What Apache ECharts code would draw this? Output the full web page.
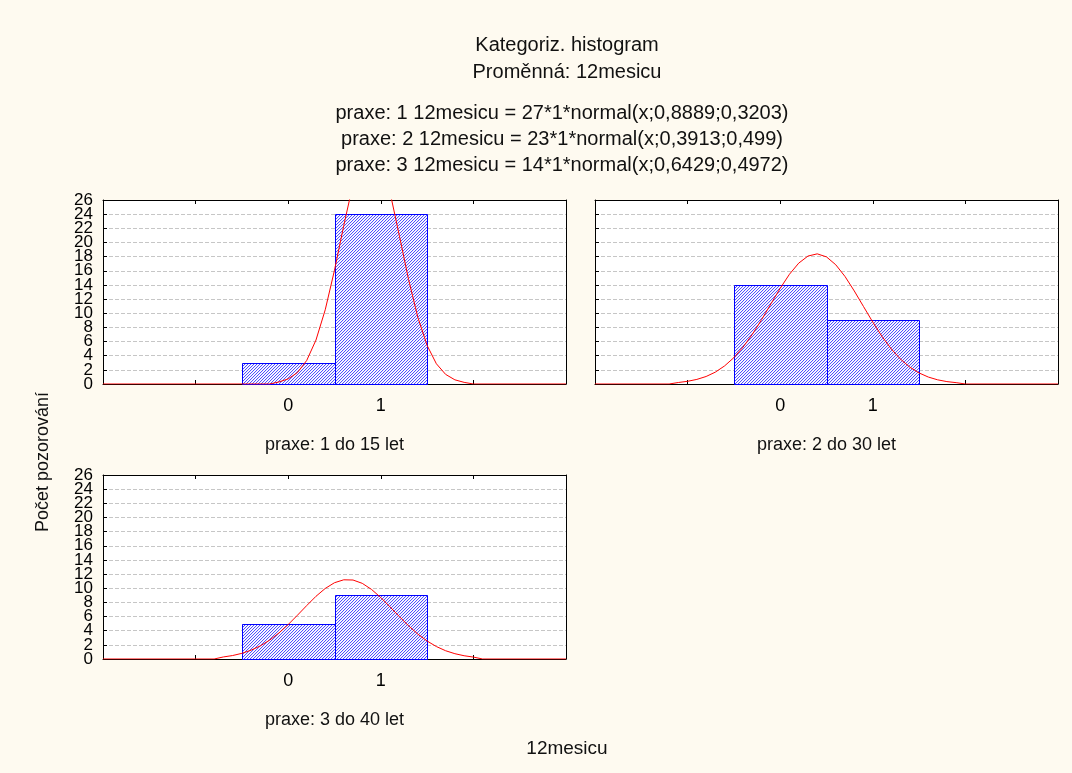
<!DOCTYPE html>
<html>
<head>
<meta charset="utf-8">
<script src="https://cdn.jsdelivr.net/npm/echarts@6/dist/echarts.min.js"></script>
<style>
  html, body { margin: 0; padding: 0; background: #fefaf0; }
  #chart { width: 1072px; height: 773px; }
</style>
</head>
<body>
<div id="chart"></div>
<script>
// ---- data ----
const titleLines = ['Kategoriz. histogram', 'Proměnná: 12mesicu'];
const fitLines = [
  'praxe: 1 12mesicu = 27*1*normal(x;0,8889;0,3203)',
  'praxe: 2 12mesicu = 23*1*normal(x;0,3913;0,499)',
  'praxe: 3 12mesicu = 14*1*normal(x;0,6429;0,4972)'
];
const groupNames = ['praxe: 1 do 15 let', 'praxe: 2 do 30 let', 'praxe: 3 do 40 let'];
const xName = '12mesicu';
const yName = 'Počet pozorování';

const binCenters = [0, 1];
const binWidth = 1;
const counts1 = [3, 24];
const counts2 = [14, 9];
const counts3 = [5, 9];

const xTickValues = [0, 1];
const xTickLabels = ['0', '1'];
const xMin = -2, xMax = 3, xStep = 1;
const yMin = 0, yMax = 26, yStep = 2;

const curve1X = [-2, -0.2, -0.1, 0, 0.1, 0.2, 0.3, 0.4, 0.5, 0.6, 0.7, 0.8, 0.9, 1.0, 1.1, 1.2, 1.3, 1.4, 1.5, 1.6, 1.7, 1.8, 1.9, 2.0, 3];
const curve1Y = [0, 0, 0.29, 0.72, 1.62, 3.33, 6.21, 10.49, 16.09, 22.39, 28.26, 32.36, 33.61, 31.67, 27.07, 20.98, 14.76, 9.42, 5.45, 2.86, 1.36, 0.59, 0.23, 0, 0];

const curve2X = [-2, -1.2, -1.1, -1.0, -0.9, -0.8, -0.7, -0.6, -0.5, -0.4, -0.3, -0.2, -0.1, 0, 0.1, 0.2, 0.3, 0.4, 0.5, 0.6, 0.7, 0.8, 0.9, 1.0, 1.1, 1.2, 1.3, 1.4, 1.5, 1.6, 1.7, 1.8, 1.9, 2.0, 3];
const curve2Y = [0, 0, 0.21, 0.38, 0.65, 1.06, 1.68, 2.56, 3.73, 5.23, 7.04, 9.11, 11.33, 13.52, 15.51, 17.08, 18.08, 18.39, 17.96, 16.85, 15.19, 13.15, 10.94, 8.74, 6.71, 4.95, 3.50, 2.38, 1.56, 0.98, 0.59, 0.34, 0.19, 0, 0];

const curve3X = [-2, -0.8, -0.7, -0.6, -0.5, -0.4, -0.3, -0.2, -0.1, 0, 0.1, 0.2, 0.3, 0.4, 0.5, 0.6, 0.7, 0.8, 0.9, 1.0, 1.1, 1.2, 1.3, 1.4, 1.5, 1.6, 1.7, 1.8, 1.9, 2.0, 2.1, 3];
const curve3Y = [0, 0, 0.29, 0.49, 0.80, 1.25, 1.86, 2.67, 3.68, 4.87, 6.19, 7.55, 8.86, 9.97, 10.78, 11.19, 11.16, 10.69, 9.83, 8.68, 7.36, 6.00, 4.69, 3.52, 2.54, 1.76, 1.17, 0.75, 0.46, 0.27, 0, 0];

// ---- drawing ----
const FONT = '"Liberation Sans", Arial, sans-serif';

// diagonal hatch used to fill the histogram bars
function makeHatch() {
  const c = document.createElement('canvas');
  c.width = 3; c.height = 3;
  const g = c.getContext('2d');
  g.fillStyle = '#ffffff';
  g.fillRect(0, 0, 3, 3);
  for (let i = 0; i < 3; i++) {
    g.fillStyle = '#5050ff';
    g.fillRect(i, 2 - i, 1, 1);
    g.fillStyle = '#eaeaff';
    g.fillRect(i, (3 - i) % 3, 1, 1);
  }
  return c;
}
const hatch = { image: makeHatch(), repeat: 'repeat' };

const panels = [
  { box: { left: 103, top: 200 }, counts: counts1, cx: curve1X, cy: curve1Y, yLabels: true,  name: groupNames[0] },
  { box: { left: 595, top: 200 }, counts: counts2, cx: curve2X, cy: curve2Y, yLabels: false, name: groupNames[1] },
  { box: { left: 103, top: 475 }, counts: counts3, cx: curve3X, cy: curve3Y, yLabels: true,  name: groupNames[2] }
];
const PW = 463, PH = 184;

const grid = [], xAxis = [], yAxis = [], series = [], graphic = [];
const yLabelStyle = { margin: 10, fontSize: 17, fontFamily: FONT, color: '#000', hideOverlap: false };

panels.forEach((p, i) => {
  grid.push({
    left: p.box.left, top: p.box.top, width: PW, height: PH,
    containLabel: false, outerBoundsMode: 'none',
    show: true, backgroundColor: '#ffffff', borderWidth: 0
  });
  const xCommon = {
    type: 'value', gridIndex: i, min: xMin, max: xMax, interval: xStep,
    axisLine: { show: true, onZero: false, lineStyle: { color: '#000', width: 1 } },
    axisTick: { show: true, inside: true, length: 4, lineStyle: { color: '#000' } },
    splitLine: { show: false }
  };
  xAxis.push(Object.assign({}, xCommon, {
    position: 'bottom',
    axisLabel: {
      show: true, margin: 13, fontSize: 18, fontFamily: FONT, color: '#000',
      formatter: v => { const k = xTickValues.indexOf(v); return k >= 0 ? xTickLabels[k] : ''; }
    }
  }));
  xAxis.push(Object.assign({}, xCommon, { position: 'top', axisLabel: { show: false } }));

  // left value axis: ticks, grid lines and the inner labels
  yAxis.push({
    type: 'value', gridIndex: i, position: 'left', min: yMin, max: yMax, interval: yStep,
    axisLine: { show: true, onZero: false, lineStyle: { color: '#000', width: 1 } },
    axisTick: { show: true, inside: true, length: 4, lineStyle: { color: '#000' } },
    axisLabel: Object.assign({ show: p.yLabels, showMinLabel: false, showMaxLabel: false }, yLabelStyle),
    splitLine: { show: true, lineStyle: { color: '#c6c6c6', width: 1, type: [4, 2] } }
  });
  // right edge of the frame
  yAxis.push({
    type: 'value', gridIndex: i, position: 'right', min: yMin, max: yMax, interval: yStep,
    axisLine: { show: true, onZero: false, lineStyle: { color: '#000', width: 1 } },
    axisTick: { show: false }, axisLabel: { show: false }, splitLine: { show: false }
  });
  // end labels (0 and 26) of the same scale
  yAxis.push({
    type: 'value', gridIndex: i, position: 'left', min: yMin, max: yMax, interval: yMax - yMin,
    axisLine: { show: false, onZero: false }, axisTick: { show: false }, splitLine: { show: false },
    axisLabel: Object.assign({ show: p.yLabels, showMinLabel: true, showMaxLabel: true }, yLabelStyle)
  });

  series.push({
    type: 'custom', xAxisIndex: 2 * i, yAxisIndex: 3 * i,
    data: binCenters.map((c, k) => [c, p.counts[k]]),
    renderItem: (params, api) => {
      const c = api.value(0), v = api.value(1);
      const tl = api.coord([c - binWidth / 2, v]);
      const br = api.coord([c + binWidth / 2, 0]);
      return {
        type: 'rect',
        shape: { x: Math.round(tl[0]) + 0.5, y: Math.round(tl[1]) + 0.5,
                 width: Math.round(br[0]) - Math.round(tl[0]), height: Math.round(br[1]) - Math.round(tl[1]) },
        style: { fill: hatch, stroke: '#0000ff', lineWidth: 1 }
      };
    },
    z: 2
  });
  series.push({
    type: 'line', xAxisIndex: 2 * i, yAxisIndex: 3 * i,
    data: p.cx.map((x, k) => [x, p.cy[k]]),
    showSymbol: false, symbol: 'none', clip: true,
    lineStyle: { color: '#ff0000', width: 1 },
    z: 3
  });

  graphic.push({
    type: 'text', x: p.box.left + PW / 2, y: p.box.top + PH + 61,
    style: { text: p.name, align: 'center', verticalAlign: 'middle', font: '18px ' + FONT, fill: '#111' }
  });
});

// titles
graphic.push({ type: 'text', x: 567, y: 45,
  style: { text: titleLines[0], align: 'center', verticalAlign: 'middle', font: '20px ' + FONT, fill: '#111' } });
graphic.push({ type: 'text', x: 567, y: 72,
  style: { text: titleLines[1], align: 'center', verticalAlign: 'middle', font: '20px ' + FONT, fill: '#111' } });
fitLines.forEach((t, k) => {
  graphic.push({ type: 'text', x: 562, y: 113 + k * 26,
    style: { text: t, align: 'center', verticalAlign: 'middle', font: '20px ' + FONT, fill: '#111' } });
});
// axis titles
graphic.push({ type: 'text', x: 567, y: 749,
  style: { text: xName, align: 'center', verticalAlign: 'middle', font: '19px ' + FONT, fill: '#111' } });
graphic.push({ type: 'text', x: 43, y: 462, rotation: Math.PI / 2,
  style: { text: yName, align: 'center', verticalAlign: 'middle', font: '18px ' + FONT, fill: '#111' } });

const chart = echarts.init(document.getElementById('chart'), null, { renderer: 'canvas' });
chart.setOption({
  backgroundColor: '#fefaf0',
  animation: false,
  grid, xAxis, yAxis, series, graphic
});
</script>
</body>
</html>
